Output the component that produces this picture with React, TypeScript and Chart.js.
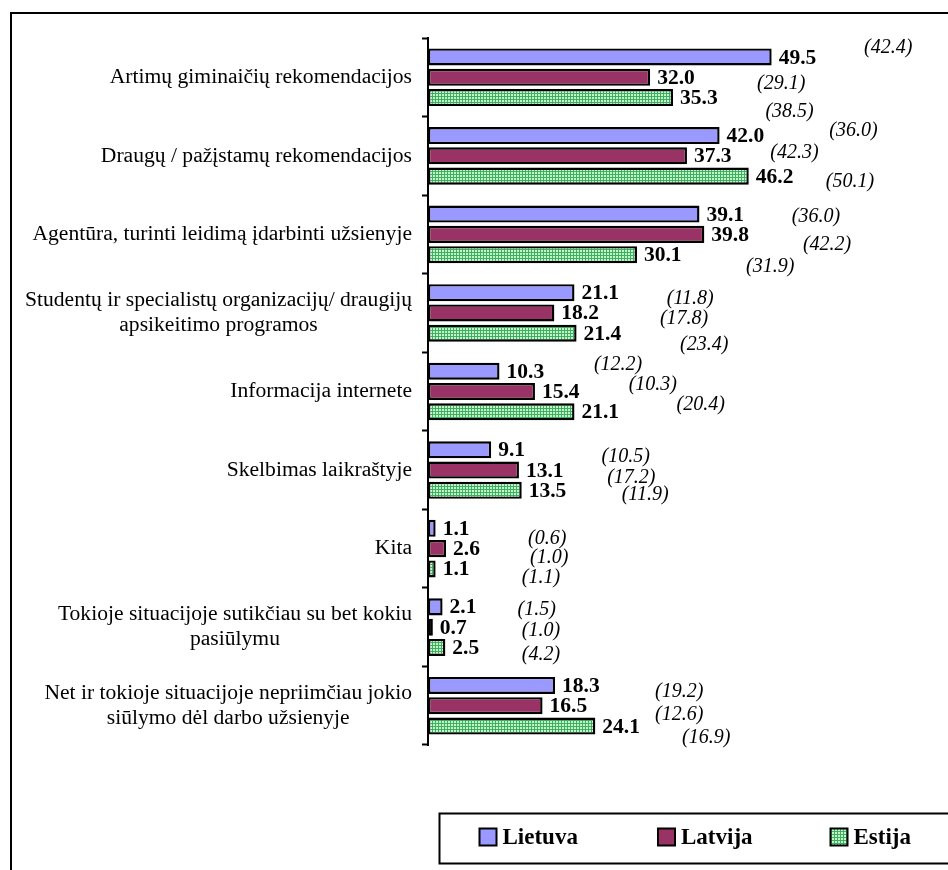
import React, { useEffect, useRef } from "react";
import { Chart, registerables } from "chart.js";
Chart.register(...registerables);

const categories: (string | string[])[] = [
  "Artimų giminaičių rekomendacijos",
  "Draugų / pažįstamų rekomendacijos",
  "Agentūra, turinti leidimą įdarbinti užsienyje",
  ["Studentų ir specialistų organizacijų/ draugijų", "apsikeitimo programos"],
  "Informacija internete",
  "Skelbimas laikraštyje",
  "Kita",
  ["Tokioje situacijoje sutikčiau su bet kokiu", "pasiūlymu"],
  ["Net ir tokioje situacijoje nepriimčiau jokio", "siūlymo dėl darbo užsienyje"],
];
const seriesNames = ["Lietuva", "Latvija", "Estija"];
const lietuva = [49.5, 42.0, 39.1, 21.1, 10.3, 9.1, 1.1, 2.1, 18.3];
const latvija = [32.0, 37.3, 39.8, 18.2, 15.4, 13.1, 2.6, 0.7, 16.5];
const estija = [35.3, 46.2, 30.1, 21.4, 21.1, 13.5, 1.1, 2.5, 24.1];
// previous values shown in parentheses
const lietuvaPrev = [42.4, 36.0, 36.0, 11.8, 12.2, 10.5, 0.6, 1.5, 19.2];
const latvijaPrev = [29.1, 42.3, 42.2, 17.8, 10.3, 17.2, 1.0, 1.0, 12.6];
const estijaPrev = [38.5, 50.1, 31.9, 23.4, 20.4, 11.9, 1.1, 4.2, 16.9];

// placement of the parenthesised labels (x in axis units, vertical shift in px)
const prevPlaceX = [
  [62.8, 57.8, 52.4, 34.4, 23.9, 25.0, 14.4, 12.9, 32.7],
  [47.4, 49.3, 54.0, 33.4, 28.9, 25.8, 14.7, 13.5, 32.7],
  [48.6, 57.3, 45.8, 36.3, 35.8, 27.9, 13.5, 13.5, 36.6],
];
const prevPlaceDy = [
  [-9, -5, 2.5, 6, -6.4, 6.7, 10, 3, 6],
  [6, -3, 10.5, 6, -6.7, 7.7, 9, 4, 9],
  [14, 5.5, 12, 11.6, -7, 4.4, 9, 7, 12],
];

const FONT = '"Liberation Serif", "Times New Roman", serif';
const C_LT = "#9999FF";
const C_LV = "#993366";
const PAT_LIGHT = "#c4f7c8";
const PAT_DARK = "#3fae63";

export default function App() {
  const ref = useRef<HTMLCanvasElement>(null);

  useEffect(() => {
    const canvas = ref.current!;
    const pc = document.createElement("canvas");
    pc.width = 3;
    pc.height = 3;
    const g = pc.getContext("2d")!;
    g.fillStyle = PAT_LIGHT;
    g.fillRect(0, 0, 3, 3);
    g.fillStyle = PAT_DARK;
    g.fillRect(0, 0, 1, 3);
    g.fillRect(0, 0, 3, 1);
    const pattern = canvas.getContext("2d")!.createPattern(pc, "repeat")!;

    const fills: any[] = [C_LT, C_LV, pattern];
    const prevs = [lietuvaPrev, latvijaPrev, estijaPrev];

    const overlay = {
      id: "overlay",
      afterDraw(chart: any) {
        const ctx = chart.ctx as CanvasRenderingContext2D;
        const xs = chart.scales.x;
        const ys = chart.scales.y;
        ctx.save();
        // outer frame (left and top edges visible)
        ctx.strokeStyle = "#000";
        ctx.lineWidth = 2;
        ctx.beginPath();
        ctx.moveTo(11, 880);
        ctx.lineTo(11, 13);
        ctx.lineTo(960, 13);
        ctx.stroke();

        // category labels
        ctx.fillStyle = "#000";
        ctx.font = `21.6px ${FONT}`;
        ctx.textBaseline = "middle";
        ctx.textAlign = "center";
        categories.forEach((lab, i) => {
          const lines = Array.isArray(lab) ? lab : [lab];
          const y = ys.getPixelForTick(i);
          const w = Math.max(...lines.map((l) => ctx.measureText(l).width));
          const cx = 412 - w / 2;
          const lh = 25;
          lines.forEach((l, j) => {
            ctx.fillText(l, cx, y + (j - (lines.length - 1) / 2) * lh);
          });
        });

        // value labels
        chart.data.datasets.forEach((ds: any, di: number) => {
          const meta = chart.getDatasetMeta(di);
          meta.data.forEach((bar: any, i: number) => {
            ctx.font = `bold 21.5px ${FONT}`;
            ctx.textAlign = "left";
            ctx.textBaseline = "middle";
            ctx.fillStyle = "#000";
            ctx.fillText(ds.data[i].toFixed(1), bar.x + 7, bar.y + 1);
            ctx.font = `italic 20px ${FONT}`;
            const px = xs.getPixelForValue(prevPlaceX[di][i]);
            ctx.fillText(`(${prevs[di][i].toFixed(1)})`, px, bar.y + prevPlaceDy[di][i]);
          });
        });

        // legend
        ctx.lineWidth = 2;
        ctx.strokeStyle = "#000";
        ctx.strokeRect(439.5, 813.5, 600, 50);
        const lx = [479.5, 658, 830.5];
        seriesNames.forEach((n, k) => {
          ctx.fillStyle = fills[k];
          ctx.fillRect(lx[k], 828.5, 17, 17);
          ctx.lineWidth = 2;
          ctx.strokeRect(lx[k], 828.5, 17, 17);
          ctx.fillStyle = "#000";
          ctx.font = `bold 23px ${FONT}`;
          ctx.textAlign = "left";
          ctx.textBaseline = "middle";
          ctx.fillText(n, lx[k] + 23, 838);
        });
        ctx.restore();
      },
    };

    const mk = (label: string, data: number[], bg: any) => ({
      label,
      data,
      backgroundColor: bg,
      borderColor: "#000",
      borderWidth: 2.4,
      borderSkipped: false as const,
      categoryPercentage: 0.775,
      barPercentage: 0.84,
    });

    const chart = new Chart(canvas, {
      type: "bar",
      data: {
        labels: categories as any,
        datasets: [
          mk(seriesNames[0], lietuva, C_LT),
          mk(seriesNames[1], latvija, C_LV),
          mk(seriesNames[2], estija, pattern),
        ],
      },
      options: {
        indexAxis: "y",
        responsive: false,
        animation: false,
        devicePixelRatio: 1,
        layout: { padding: { left: 0, top: 38, bottom: 125, right: 34 } },
        plugins: { legend: { display: false }, tooltip: { enabled: false } },
        scales: {
          x: { display: false, min: 0, max: 70 },
          y: {
            position: "left",
            afterFit: (scale: any) => {
              scale.width = 428;
            },
            ticks: { display: false },
            grid: {
              offset: true,
              drawOnChartArea: false,
              drawTicks: true,
              tickLength: 6,
              tickWidth: 2,
              tickColor: "#000",
            },
            border: { display: true, color: "#000", width: 2 },
          },
        },
      },
      plugins: [overlay],
    });
    return () => chart.destroy();
  }, []);

  return (
    <div style={{ position: "fixed", left: 0, top: 0, width: 948, height: 870, background: "#fff" }}>
      <canvas ref={ref} width={948} height={870} style={{ width: 948, height: 870, display: "block" }} />
    </div>
  );
}
